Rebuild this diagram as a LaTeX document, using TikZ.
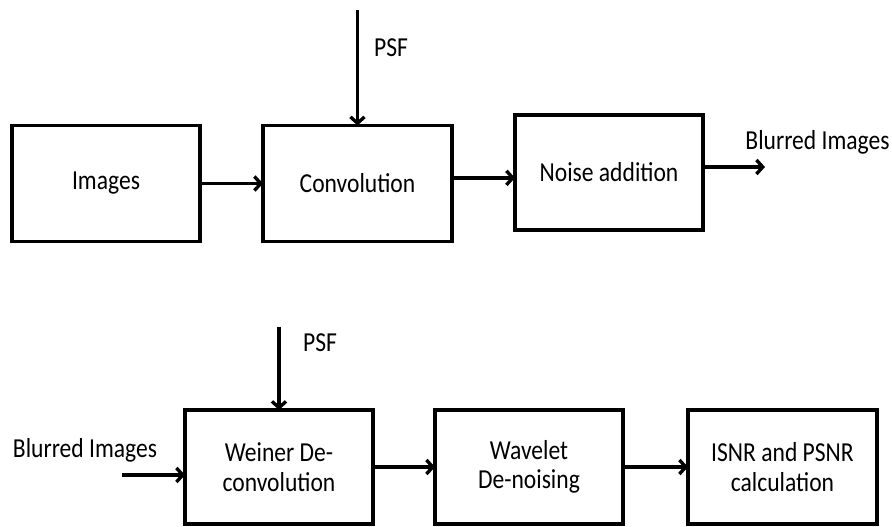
\documentclass[tikz,border=0pt]{standalone}
\usepackage{fontspec}
\setmainfont[FakeStretch=0.86]{Carlito}
\usetikzlibrary{arrows.meta,positioning,calc}
\begin{document}
\begin{tikzpicture}[>={Straight Barb[length=4.5pt,width=10pt]},font=\fontsize{19.5pt}{21pt}\selectfont,
 block/.style={draw,line width=2.6pt,minimum width=4.7cm,minimum height=2.9cm,align=center,inner sep=2pt,outer sep=0pt},
 flow/.style={->,line width=2.4pt}]
\useasboundingbox (0,0) rectangle (22.3,-13.175);
\node[block] (img) at (2.65,-4.5875) {Images};
\node[block,minimum width=4.725cm] (conv) at (8.9375,-4.5875) {Convolution};
\node[block,minimum height=2.875cm] (noise) at (15.225,-4.3125) {Noise addition};
\node[block,minimum height=2.85cm] (wein) at (6.975,-11.675) {Weiner De-\\convolution};
\node[block,minimum height=2.85cm] (wave) at (13.225,-11.675) {Wavelet\\De-noising};
\node[block,minimum height=2.85cm,minimum width=4.725cm] (isnr) at (19.5625,-11.675) {ISNR and PSNR\\calculation};
\coordinate (psftop) at (8.9375,-0.25);
\coordinate (psfbot) at (6.975,-8.175);
\coordinate (blurout) at (19.125,-4.175);
\coordinate (blurin) at (3.05,-11.875);
\node (psfa) at (9.775,-1.2) {PSF};
\node (psfb) at (8.0,-8.575) {PSF};
\node (outlbl) at (20.4375,-3.55) {Blurred Images};
\node (inlbl) at (2.125,-11.25) {Blurred Images};
\draw[flow] (psftop) -- (conv.north);
\draw[flow] (img.east) -- (conv.west);
\draw[flow] ([yshift=4pt]conv.east) -- ([yshift=4pt]conv.east -| noise.west);
\draw[flow] (blurout -| noise.east) -- (blurout);
\draw[flow] (psfbot) -- (wein.north);
\draw[flow] (blurin) -- (blurin -| wein.west);
\draw[flow] (wein) -- (wave);
\draw[flow] (wave) -- (isnr);
\end{tikzpicture}
\end{document}
